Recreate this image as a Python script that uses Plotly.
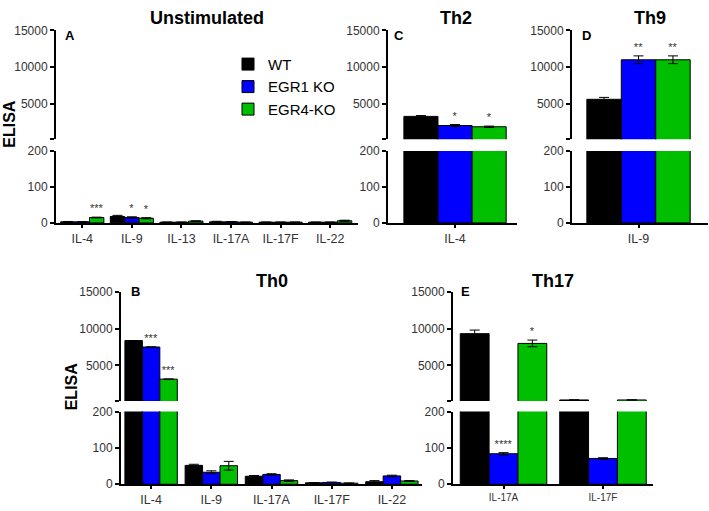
import plotly.graph_objects as go

W, H = 709, 511

series_names = ["WT", "EGR1 KO", "EGR4-KO"]
series_colors = ["#000000", "#0000FF", "#00BE00"]

# Panel A - Unstimulated
A_cats = ["IL-4", "IL-9", "IL-13", "IL-17A", "IL-17F", "IL-22"]
A_wt = [3, 18, 2, 3, 2, 2]
A_egr1 = [3, 15, 2, 3, 2, 2]
A_egr4 = [15, 13, 5, 2, 2, 6]
A_wt_err = [1, 3, 0.5, 1.5, 0.5, 0.5]
A_egr1_err = [0.5, 2, 0.5, 0.5, 0.5, 0.5]
A_egr4_err = [1, 1.5, 1, 0.5, 0.5, 1.5]
A_wt_sig = ["", "", "", "", "", ""]
A_egr1_sig = ["", "*", "", "", "", ""]
A_egr4_sig = ["***", "*", "", "", "", ""]

# Panel B - Th0
B_cats = ["IL-4", "IL-9", "IL-17A", "IL-17F", "IL-22"]
B_wt = [8380, 52, 22, 4, 7]
B_egr1 = [7500, 33, 27, 5, 23]
B_egr4 = [3150, 51, 10, 3, 9]
B_wt_err = [0, 3, 2, 0.5, 3]
B_egr1_err = [0, 4, 2, 1, 2]
B_egr4_err = [0, 12, 2, 0.5, 1]
B_wt_sig = ["", "", "", "", ""]
B_egr1_sig = ["***", "", "", "", ""]
B_egr4_sig = ["***", "", "", "", ""]

# Panel C - Th2
C_cats = ["IL-4"]
C_wt = [3310]
C_egr1 = [2070]
C_egr4 = [1900]
C_wt_err = [110]
C_egr1_err = [130]
C_egr4_err = [90]
C_wt_sig = [""]
C_egr1_sig = ["*"]
C_egr4_sig = ["*"]

# Panel D - Th9
D_cats = ["IL-9"]
D_wt = [5630]
D_egr1 = [11000]
D_egr4 = [11000]
D_wt_err = [260]
D_egr1_err = [530]
D_egr4_err = [530]
D_wt_sig = [""]
D_egr1_sig = ["**"]
D_egr4_sig = ["**"]

# Panel E - Th17
E_cats = ["IL-17A", "IL-17F"]
E_wt = [9310, 330]
E_egr1 = [84, 71]
E_egr4 = [7990, 330]
E_wt_err = [490, 0]
E_egr1_err = [3, 2]
E_egr4_err = [450, 0]
E_wt_sig = ["", ""]
E_egr1_sig = ["****", ""]
E_egr4_sig = ["*", ""]

BREAK = 200
UPPER_MAX = 15000


def px_x(a, b):
    return [a / W, b / W]


def px_y(top, bottom):
    return [1 - bottom / H, 1 - top / H]


panels = [
    dict(key="A", title="Unstimulated", cats=A_cats,
         vals=[A_wt, A_egr1, A_egr4], errs=[A_wt_err, A_egr1_err, A_egr4_err],
         sigs=[A_wt_sig, A_egr1_sig, A_egr4_sig],
         xdom=px_x(56, 358), up=px_y(24, 136), lo=px_y(148, 222),
         xrange=[-0.53, 5.56], xfont=12.5, title_xy=(207, 11), letter_xy=(70, 29),
         ylabel_xy=(10, 120)),
    dict(key="B", title="Th0", cats=B_cats,
         vals=[B_wt, B_egr1, B_egr4], errs=[B_wt_err, B_egr1_err, B_egr4_err],
         sigs=[B_wt_sig, B_egr1_sig, B_egr4_sig],
         xdom=px_x(121, 422), up=px_y(292.7, 405), lo=px_y(416, 490.7),
         xrange=[-0.5, 4.5], xfont=12.5, title_xy=(272, 282), letter_xy=(135, 293),
         ylabel_xy=(71, 390)),
    dict(key="C", title="Th2", cats=C_cats,
         vals=[C_wt, C_egr1, C_egr4], errs=[C_wt_err, C_egr1_err, C_egr4_err],
         sigs=[C_wt_sig, C_egr1_sig, C_egr4_sig],
         xdom=px_x(388, 517), up=px_y(24, 136), lo=px_y(148, 222),
         xrange=[-0.570, 0.527], xfont=12.5, title_xy=(456, 11), letter_xy=(399, 29),
         ylabel_xy=None),
    dict(key="D", title="Th9", cats=D_cats,
         vals=[D_wt, D_egr1, D_egr4], errs=[D_wt_err, D_egr1_err, D_egr4_err],
         sigs=[D_wt_sig, D_egr1_sig, D_egr4_sig],
         xdom=px_x(572, 708), up=px_y(24, 136), lo=px_y(148, 222),
         xrange=[-0.560, 0.585], xfont=12.5, title_xy=(650, 11), letter_xy=(586, 29),
         ylabel_xy=None),
    dict(key="E", title="Th17", cats=E_cats,
         vals=[E_wt, E_egr1, E_egr4], errs=[E_wt_err, E_egr1_err, E_egr4_err],
         sigs=[E_wt_sig, E_egr1_sig, E_egr4_sig],
         xdom=px_x(453, 653), up=px_y(292.7, 405), lo=px_y(416, 490.7),
         xrange=[-0.508, 1.503], xfont=10, title_xy=(553, 282), letter_xy=(465, 293),
         ylabel_xy=None),
]

fig = go.Figure()
layout = dict(
    width=W, height=H, margin=dict(l=0, r=0, t=0, b=0),
    paper_bgcolor="white", plot_bgcolor="white",
    barmode="group", bargap=0.13, bargroupgap=0,
    font=dict(family="Liberation Sans, Arial, sans-serif", color="#333333"),
    showlegend=True,
    legend=dict(x=228 / W, y=1 - 42 / H, xanchor="left", yanchor="top",
                font=dict(size=15, color="#000000"), bgcolor="rgba(0,0,0,0)",
                traceorder="normal"),
)
annotations = []

axis_common = dict(showgrid=False, zeroline=False, showline=True, linecolor="#000000",
                   linewidth=2, ticks="outside", tickcolor="#000000")

for p_i, P in enumerate(panels):
    lo_n = 2 * p_i + 1
    up_n = 2 * p_i + 2
    for seg, n in (("lo", lo_n), ("up", up_n)):
        xname = "x" if n == 1 else f"x{n}"
        yname = "y" if n == 1 else f"y{n}"
        for s_i in range(3):
            vals = P["vals"][s_i]
            errs = P["errs"][s_i]
            sigs = P["sigs"][s_i]
            if seg == "lo":
                seg_err = [e if v < BREAK else 0 for v, e in zip(vals, errs)]
                in_seg = [v < BREAK for v in vals]
            else:
                seg_err = [e if v >= BREAK else 0 for v, e in zip(vals, errs)]
                in_seg = [v >= BREAK for v in vals]
            fig.add_trace(go.Bar(
                x=P["cats"], y=vals, xaxis=xname, yaxis=yname,
                name=series_names[s_i], offsetgroup=series_names[s_i],
                legendgroup=series_names[s_i],
                showlegend=(p_i == 0 and seg == "lo"),
                marker=dict(color=series_colors[s_i], line=dict(color="#000000", width=1)),
                error_y=dict(type="data", array=seg_err, visible=True,
                             color="#000000", thickness=1, width=5),
            ))
            # significance stars, placed on top of the error bar
            star_y = [v + e if (s and ok) else None
                      for v, e, s, ok in zip(vals, errs, sigs, in_seg)]
            if any(y is not None for y in star_y):
                fig.add_trace(go.Bar(
                    x=P["cats"], y=star_y, xaxis=xname, yaxis=yname,
                    name=series_names[s_i], offsetgroup=series_names[s_i],
                    showlegend=False, hoverinfo="skip",
                    marker=dict(color="rgba(0,0,0,0)", line=dict(width=0)),
                    text=sigs, textposition="outside", cliponaxis=False,
                    constraintext="none",
                    textfont=dict(size=11, color="#333333"),
                ))
        xkey = "xaxis" if n == 1 else f"xaxis{n}"
        ykey = "yaxis" if n == 1 else f"yaxis{n}"
        if seg == "lo":
            layout[xkey] = dict(axis_common, domain=P["xdom"], anchor=yname,
                                type="category", range=P["xrange"],
                                ticklen=3, tickwidth=1.5,
                                tickfont=dict(size=P["xfont"], color="#333333"))
            layout[ykey] = dict(axis_common, domain=P["lo"], anchor=xname,
                                range=[0, BREAK], tickvals=[0, 100, 200],
                                ticktext=["0", "100", "200"],
                                ticklen=4, tickwidth=2,
                                tickfont=dict(size=12, color="#333333"))
        else:
            layout[xkey] = dict(domain=P["xdom"], anchor=yname, type="category",
                                range=P["xrange"], visible=False, showgrid=False,
                                zeroline=False)
            layout[ykey] = dict(axis_common, domain=P["up"], anchor=xname,
                                range=[BREAK, UPPER_MAX],
                                tickvals=[BREAK, 5000, 10000, 15000],
                                ticktext=["", "5000", "10000", "15000"],
                                ticklen=4, tickwidth=2,
                                tickfont=dict(size=12, color="#333333"))

    tx, ty = P["title_xy"]
    annotations.append(dict(text=f"<b>{P['title']}</b>", x=tx / W, y=1 - ty / H,
                            xref="paper", yref="paper", showarrow=False,
                            xanchor="center", yanchor="middle",
                            font=dict(size=18, color="#000000")))
    lx, ly = P["letter_xy"]
    annotations.append(dict(text=f"<b>{P['key']}</b>", x=lx / W, y=1 - ly / H,
                            xref="paper", yref="paper", showarrow=False,
                            xanchor="center", yanchor="middle",
                            font=dict(size=13, color="#000000")))
    if P["ylabel_xy"]:
        ex, ey = P["ylabel_xy"]
        annotations.append(dict(text="<b>ELISA</b>", x=ex / W, y=1 - ey / H,
                                xref="paper", yref="paper", showarrow=False,
                                textangle=-90, xanchor="center", yanchor="middle",
                                font=dict(size=16, color="#000000")))

layout["annotations"] = annotations
fig.update_layout(**layout)
fig.write_html(
    "out.html",
    config={"displayModeBar": False},
    post_script="document.body.style.margin='0px';document.body.style.overflow='hidden';",
)
